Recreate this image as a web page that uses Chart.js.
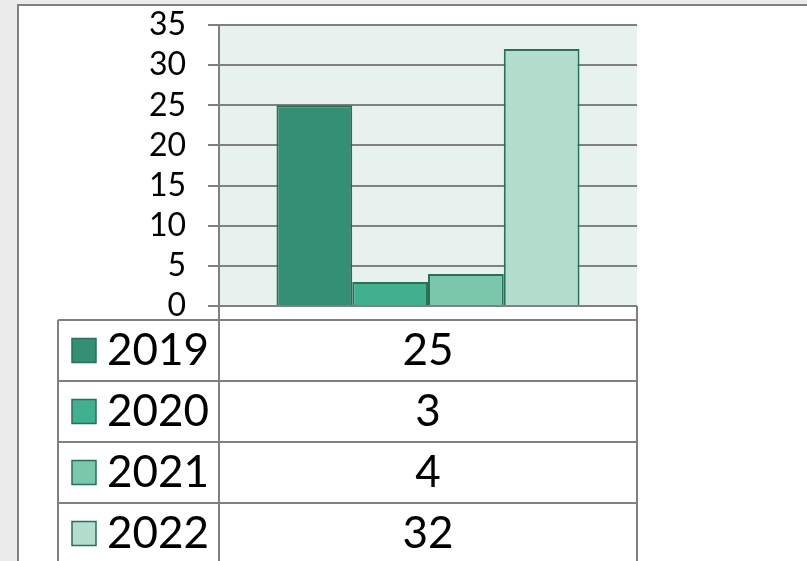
<!DOCTYPE html>
<html>
<head>
<meta charset="utf-8">
<title>Column chart with data table</title>
<script src="https://cdn.jsdelivr.net/npm/chart.js@4/dist/chart.umd.min.js"></script>
<style>
  html, body { margin: 0; padding: 0; background: #ececec; overflow: hidden; }
  #frame {
    position: absolute; left: 17px; top: 4px; width: 800px; height: 570px;
    background: #fff; border-left: 2px solid #808080; border-top: 2px solid #808080;
  }
  #wrap { position: absolute; left: 0; top: 0; width: 807px; height: 561px; }
</style>
</head>
<body>
<div id="frame"></div>
<div id="wrap"><canvas id="yearChart" width="807" height="561"></canvas></div>
<script>
/** data */
const CATEGORIES = [''];
const SERIES_LABELS = ['2019', '2020', '2021', '2022'];
const SERIES_VALUES = [25, 3, 4, 32];
const Y_TICKS = [0, 5, 10, 15, 20, 25, 30, 35];

/** greens, dark to light */
const BAR_COLORS = ['#348f74', '#40b08e', '#7bc7ab', '#b3ddcc'];
const BAR_BORDER = '#2b6f5a';
const PLOT_BG = '#e7f1ed';
const LINE_GRAY = '#808080';
const FONT = 'Lato, "Noto Sans", sans-serif';

/** light green plot area behind the bars */
const plotBackground = {
  id: 'plotBackground',
  beforeDraw(chart) {
    const { ctx, chartArea: a } = chart;
    ctx.save();
    ctx.fillStyle = PLOT_BG;
    ctx.fillRect(a.left, a.top, a.right - a.left, a.bottom - a.top);
    ctx.restore();
  },
};

/** data table under the plot, with legend keys in the first column */
const dataTable = {
  id: 'dataTable',
  afterDraw(chart) {
    const { ctx, chartArea: a } = chart;
    const top = a.bottom + 14;
    const rowH = 61;
    const left = 58;
    const bottom = chart.height + 10;

    ctx.save();
    ctx.strokeStyle = LINE_GRAY;
    ctx.lineWidth = 2;
    ctx.beginPath();
    // short verticals between plot and table
    ctx.moveTo(a.right, a.bottom);
    ctx.lineTo(a.right, bottom);
    ctx.moveTo(a.left, a.bottom);
    ctx.lineTo(a.left, bottom);
    ctx.moveTo(left, top);
    ctx.lineTo(left, bottom);
    for (let i = 0; i < SERIES_LABELS.length; i++) {
      const y = top + i * rowH;
      ctx.moveTo(left, y);
      ctx.lineTo(a.right, y);
    }
    ctx.stroke();

    ctx.textBaseline = 'middle';
    ctx.fillStyle = '#000';
    ctx.font = `44px ${FONT}`;
    SERIES_LABELS.forEach((label, i) => {
      const cy = top + i * rowH + rowH / 2;
      const ds = chart.data.datasets[i];
      ctx.fillStyle = ds.backgroundColor;
      ctx.fillRect(72, cy - 12, 24, 24);
      ctx.strokeStyle = BAR_BORDER;
      ctx.lineWidth = 1.5;
      ctx.strokeRect(72, cy - 12, 24, 24);

      ctx.fillStyle = '#000';
      ctx.textAlign = 'left';
      ctx.fillText(label, 107, cy);
      ctx.textAlign = 'center';
      ctx.fillText(String(ds.data[0]), (a.left + a.right) / 2, cy);
    });
    ctx.restore();
  },
};

function renderChart() {
  const canvas = document.getElementById('yearChart');
  const ctx = canvas.getContext('2d');

  new Chart(ctx, {
    type: 'bar',
    data: {
      labels: CATEGORIES,
      datasets: SERIES_LABELS.map((label, i) => ({
        label,
        data: [SERIES_VALUES[i]],
        backgroundColor: BAR_COLORS[i],
        borderColor: BAR_BORDER,
        borderWidth: 2,
        categoryPercentage: 0.725,
        barPercentage: 1,
      })),
    },
    options: {
      responsive: false,
      animation: false,
      layout: {
        padding: { left: 0, top: 25, right: 170, bottom: 255 },
      },
      plugins: {
        legend: { display: false },
        tooltip: { enabled: false },
      },
      scales: {
        x: { display: false },
        y: {
          min: Y_TICKS[0],
          max: Y_TICKS[Y_TICKS.length - 1],
          afterBuildTicks(scale) {
            scale.ticks = Y_TICKS.map((v) => ({ value: v }));
          },
          afterFit(scale) {
            scale.width = 219;
            // label overflow is covered by the layout padding
            scale.paddingTop = 0;
            scale.paddingBottom = 0;
          },
          grid: {
            color: LINE_GRAY,
            lineWidth: 2,
            tickLength: 11,
          },
          border: { display: true, color: LINE_GRAY, width: 2 },
          ticks: {
            color: '#000',
            padding: 22,
            autoSkip: false,
            font: { family: FONT, size: 32 },
          },
        },
      },
    },
    plugins: [plotBackground, dataTable],
  });
}

document.addEventListener('DOMContentLoaded', renderChart);
</script>
</body>
</html>
